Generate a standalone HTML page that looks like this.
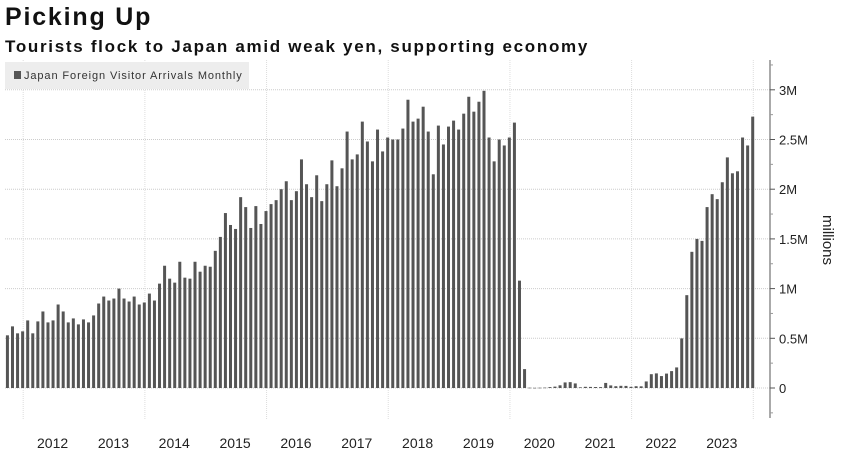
<!DOCTYPE html>
<html><head><meta charset="utf-8"><style>
body{margin:0;background:#fff;width:844px;height:460px;overflow:hidden;font-family:"Liberation Sans",sans-serif}
#t{position:absolute;left:5px;top:3px;font-size:25px;font-weight:bold;color:#111;letter-spacing:1.8px}
#s{position:absolute;left:5px;top:37px;font-size:17px;font-weight:bold;color:#111;letter-spacing:1.7px}
svg{position:absolute;left:0;top:0}
</style></head><body>
<div id="t">Picking Up</div>
<div id="s">Tourists flock to Japan amid weak yen, supporting economy</div>
<svg id="c" width="844" height="460"></svg>
<script>
// Monthly arrivals (millions), Sep 2011 – Dec 2023
const startYear = 2011, startMonth = 8;
const arrivals = [0.53,0.62,0.55,0.57,0.68,0.55,0.67,0.77,0.66,0.68,0.84,0.77,0.66,0.70,0.64,0.69,0.66,0.73,0.85,0.92,0.88,0.90,1.00,0.90,0.87,0.92,0.84,0.86,0.95,0.88,1.05,1.23,1.10,1.06,1.27,1.11,1.10,1.27,1.17,1.23,1.22,1.38,1.52,1.76,1.64,1.60,1.92,1.82,1.61,1.83,1.65,1.78,1.85,1.89,
2.00,2.08,1.89,1.98,2.30,2.05,1.92,2.14,1.88,2.05,2.29,2.03,2.21,2.58,2.30,2.35,2.68,2.48,2.28,2.60,2.38,2.52,2.50,2.50,2.61,2.90,2.68,2.71,2.83,2.58,2.15,2.64,2.45,2.63,2.69,2.60,2.76,2.93,2.78,2.88,2.99,2.52,2.28,2.50,2.44,2.52,2.67,1.08,0.19,
0.003,0.002,0.003,0.004,0.009,0.014,0.027,0.056,0.059,0.046,0.007,0.012,0.011,0.010,0.009,0.051,0.026,0.018,0.022,0.021,0.012,0.018,0.017,0.066,0.139,0.147,0.120,0.145,0.170,0.207,0.499,0.934,1.37,1.50,1.48,1.82,1.95,1.90,2.07,2.32,2.16,2.18,2.52,2.44,2.73];
const yTicks = [0,0.5,1,1.5,2,2.5,3];
const yTickLabels = ["0","0.5M","1M","1.5M","2M","2.5M","3M"];
const yearLabels = [2012,2013,2014,2015,2016,2017,2018,2019,2020,2021,2022,2023];

const svg = document.getElementById('c');
const NS = 'http://www.w3.org/2000/svg';
const X0 = 27.7, DX = 5.07, Y0 = 388, PXM = 99.4;
function xIdx(k){ return X0 + DX*k; } // k = months since Jan 2012
function y(v){ return Y0 - v*PXM; }
function mk(tag, attrs){ const e=document.createElementNS(NS,tag); for(const a in attrs) e.setAttribute(a,attrs[a]); svg.appendChild(e); return e; }

yTicks.forEach((v,i)=>{
  const g=mk('line',{x1:5,x2:770,y1:y(v),y2:y(v),stroke:'#ccc','stroke-dasharray':'1,1'});
  
  
});
for(let yr=2012; yr<=2024; yr+=2){
  const gx = xIdx((yr-2012)*12) - 4.5;
  const g=mk('line',{x1:gx,x2:gx,y1:60,y2:420,stroke:'#ddd','stroke-dasharray':'1,1'});
  
  
}
const off = (startYear-2012)*12 + startMonth;
arrivals.forEach((v,i)=>{
  const cx = xIdx(off+i);
  const b=mk('rect',{x:cx-1.5,y:y(v),width:3,height:Math.max(v*PXM,0.6),fill:'#555'});
  
  
});
const ax=mk('line',{x1:770,x2:770,y1:60,y2:418,stroke:'#555','stroke-width':1});


yTicks.forEach((v,i)=>{
  mk('line',{x1:770,x2:775,y1:y(v),y2:y(v),stroke:'#555'});
  mk('line',{x1:770,x2:773,y1:y(v)-PXM/4,y2:y(v)-PXM/4,stroke:'#999'});
  const t=mk('text',{x:779,y:y(v)+5,'font-size':13,fill:'#222'});
  t.textContent=yTickLabels[i];
  
  
});
mk('line',{x1:770,x2:773,y1:y(-0.25),y2:y(-0.25),stroke:'#999'});
const yt=mk('text',{x:0,y:0,'font-size':15,fill:'#222',transform:'translate(823,240) rotate(90)','text-anchor':'middle'});
yt.textContent='millions';


yearLabels.forEach(yr=>{
  const t=mk('text',{x:xIdx((yr-2012)*12+5.5)-3,y:448,'font-size':14,fill:'#222','text-anchor':'middle'});
  t.textContent=yr;
  
  
});
const lb=mk('rect',{x:5,y:62,width:244,height:27,fill:'#ededed'});


mk('rect',{x:14,y:71,width:7,height:8,fill:'#555'});
const lt=mk('text',{x:24,y:79,'font-size':11,fill:'#333','letter-spacing':0.9});
lt.textContent='Japan Foreign Visitor Arrivals Monthly';


</script>
</body></html>
